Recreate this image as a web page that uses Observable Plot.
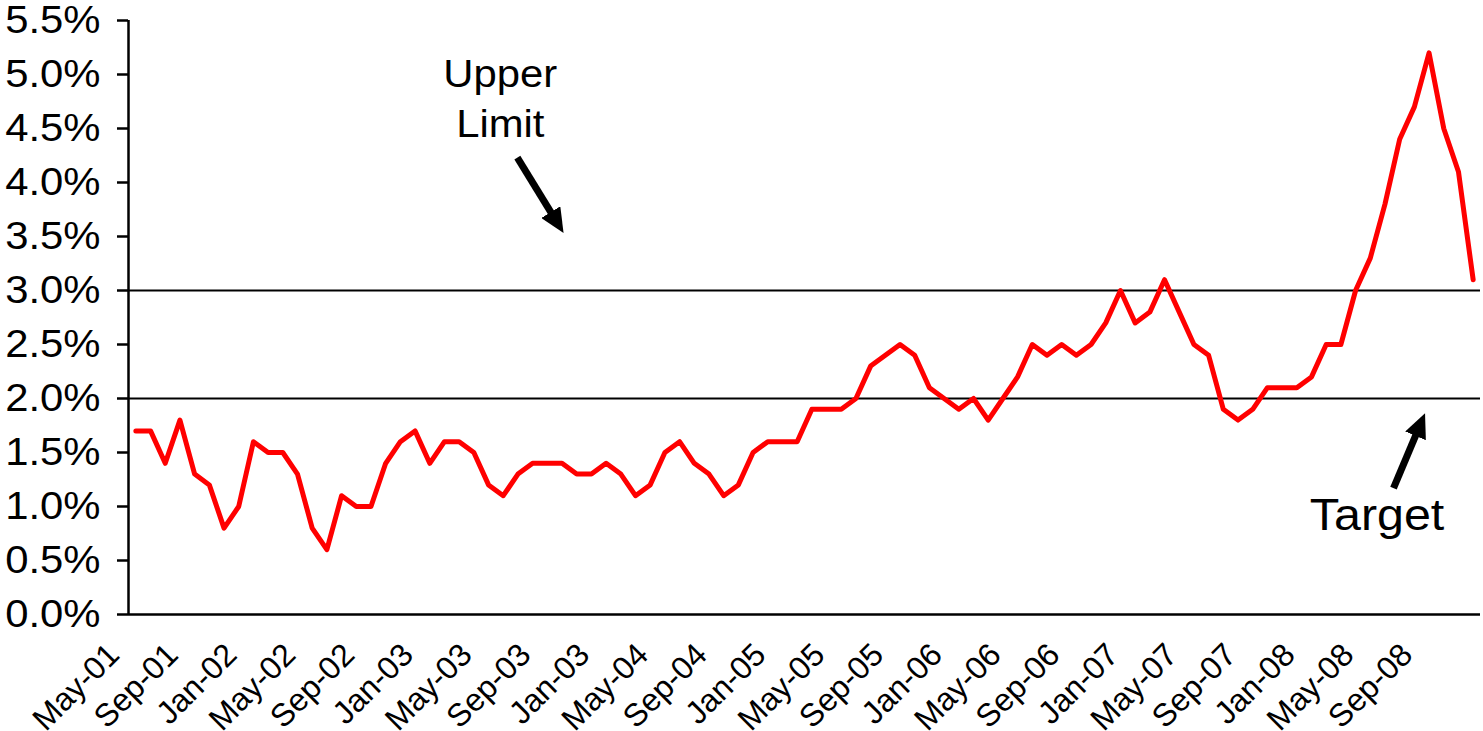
<!DOCTYPE html>
<html>
<head>
<meta charset="utf-8">
<script src="https://cdn.jsdelivr.net/npm/d3@7"></script>
<script src="https://cdn.jsdelivr.net/npm/@observablehq/plot@0.6"></script>
<style>
  html, body { margin: 0; padding: 0; background: #fff; }
  #chart svg { display: block; }
</style>
</head>
<body>
<div id="chart"></div>
<script>
// Monthly annual inflation rate (%), May-01 .. Dec-08
const inflation = [
  1.7,1.7,1.4,1.8,1.3,1.2,0.8,1.0,1.6,1.5,1.5,1.3,
  0.8,0.6,1.1,1.0,1.0,1.4,1.6,1.7,1.4,1.6,1.6,1.5,
  1.2,1.1,1.3,1.4,1.4,1.4,1.3,1.3,1.4,1.3,1.1,1.2,
  1.5,1.6,1.4,1.3,1.1,1.2,1.5,1.6,1.6,1.6,1.9,1.9,
  1.9,2.0,2.3,2.4,2.5,2.4,2.1,2.0,1.9,2.0,1.8,2.0,
  2.2,2.5,2.4,2.5,2.4,2.5,2.7,3.0,2.7,2.8,3.1,2.8,
  2.5,2.4,1.9,1.8,1.9,2.1,2.1,2.1,2.2,2.5,2.5,3.0,
  3.3,3.8,4.4,4.7,5.2,4.5,4.1,3.1
];
// Category labels shown every 4 months (as printed on the original)
const tickLabels = ["May-01","Sep-01","Jan-02","May-02","Sep-02","Jan-03","May-03","Sep-03","Jan-03",
  "May-04","Sep-04","Jan-05","May-05","Sep-05","Jan-06","May-06","Sep-06","Jan-07","May-07",
  "Sep-07","Jan-08","May-08","Sep-08"];
const tickStep = 4;
const yTicks = [0,0.5,1.0,1.5,2.0,2.5,3.0,3.5,4.0,4.5,5.0,5.5];
const refLines = [2.0, 3.0];       // Target and Upper Limit (%)
// Annotations in data units: month index and %
const notes = [
  {label: "Upper\nLimit", x: 24.8, y: 4.42, size: 38},
  {label: "Target", x: 84.46, y: 0.78, size: 44}
];
const arrows = [
  {x1: 25.96, y1: 4.23, x2: 28.8, y2: 3.60},
  {x1: 85.58, y1: 1.17, x2: 87.5, y2: 1.79}
];

const data = inflation.map((v, i) => ({i, v: v / 100}));
const tickIdx = tickLabels.map((_, k) => k * tickStep);

function filledArrow(color, context) {
  const ns = "http://www.w3.org/2000/svg";
  const m = context.document.createElementNS(ns, "marker");
  m.setAttribute("viewBox", "0 0 10 10");
  m.setAttribute("markerWidth", 3.5);
  m.setAttribute("markerHeight", 3.2);
  m.setAttribute("preserveAspectRatio", "none");
  m.setAttribute("refX", 6.5);
  m.setAttribute("refY", 5);
  m.setAttribute("orient", "auto");
  const p = context.document.createElementNS(ns, "path");
  p.setAttribute("d", "M0,0L10,5L0,10Z");
  p.setAttribute("fill", color);
  p.setAttribute("stroke", "none");
  m.appendChild(p);
  return m;
}

const chart = Plot.plot({
  width: 1483,
  height: 731,
  marginLeft: 128,
  marginRight: 3,
  marginTop: 20,
  marginBottom: 117,
  style: {fontFamily: "'Liberation Sans', Arial, sans-serif", color: "black", background: "white"},
  x: {domain: [-0.5, inflation.length - 0.5]},
  y: {domain: [0, 0.055]},
  marks: [
    Plot.ruleY(refLines.map(d => d / 100), {stroke: "black", strokeWidth: 2}),
    Plot.ruleY([0], {stroke: "black", strokeWidth: 2.5}),
    Plot.ruleX([-0.5], {y1: 0, y2: 0.055, stroke: "black", strokeWidth: 2.5}),
    Plot.axisY(yTicks.map(d => d / 100), {
      tickFormat: d3.format(".1%"), tickSize: 11, tickPadding: 17,
      fontSize: 38, strokeWidth: 2.5, label: null, className: "stretch"
    }),
    Plot.axisX(tickIdx, {
      tickFormat: i => tickLabels[i / tickStep], tickSize: 0, tickPadding: 0,
      tickRotate: -45, textAnchor: "end", lineAnchor: "middle",
      dx: -22, dy: 35, fontSize: 32, label: null
    }),
    Plot.line(data, {x: "i", y: "v", stroke: "#ff0000", strokeWidth: 5, strokeLinejoin: "round"}),
    Plot.link(arrows, {
      x1: "x1", y1: d => d.y1 / 100, x2: "x2", y2: d => d.y2 / 100,
      stroke: "black", strokeWidth: 7, markerEnd: filledArrow
    }),
    Plot.text(notes, {
      x: "x", y: d => d.y / 100, text: "label", fontSize: d => d.size,
      textAnchor: "middle", lineAnchor: "bottom", lineHeight: 1.32, fill: "black",
      className: "stretch"
    })
  ]
});
document.getElementById("chart").appendChild(chart);

// The original artwork is slightly stretched horizontally; mimic it on the upright texts.
function stretch(el, f) {
  const len = el.getComputedTextLength();
  if (len > 0) {
    el.setAttribute("textLength", (len * f).toFixed(1));
    el.setAttribute("lengthAdjust", "spacingAndGlyphs");
  }
}
chart.querySelectorAll(".stretch text").forEach(t => {
  const spans = t.querySelectorAll("tspan");
  if (spans.length) spans.forEach(s => stretch(s, 1.1));
  else stretch(t, 1.1);
});
</script>
</body>
</html>
